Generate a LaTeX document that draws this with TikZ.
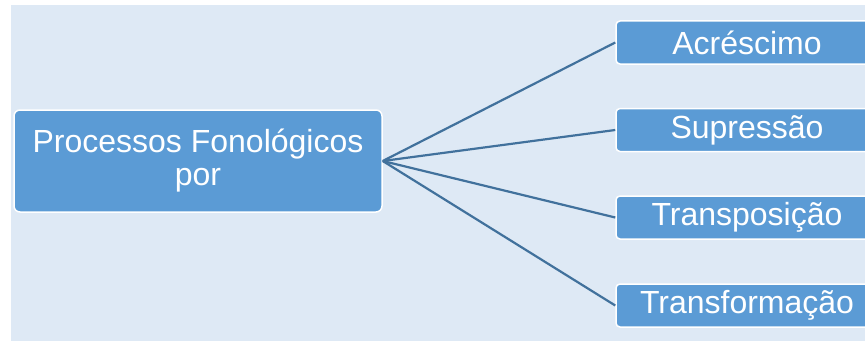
\documentclass[tikz,border=0pt]{standalone}
\usepackage{fontspec}
\setmainfont{Liberation Sans}
\definecolor{bgblue}{HTML}{DEE9F5}
\definecolor{boxblue}{HTML}{5B9BD5}
\definecolor{lineblue}{HTML}{41719C}
\begin{document}
\begin{tikzpicture}[x=1pt,y=1pt,
  mainbox/.style={draw=white, line width=1.5pt, fill=boxblue, rounded corners=6pt,
    text=white, align=center, minimum width=368pt, minimum height=102pt, inner sep=0pt,
    font=\fontsize{32}{33}\selectfont},
  leafbox/.style={draw=white, line width=1.5pt, fill=boxblue, rounded corners=4pt,
    text=white, minimum width=262pt, minimum height=43pt, inner sep=0pt,
    font=\fontsize{32}{33}\selectfont},
  conn/.style={draw=lineblue, line width=2.2pt}]
\useasboundingbox (0,0) rectangle (865,341);
\clip (0,0) rectangle (865,341);
\fill[bgblue] (11,0) rectangle (865,336);
\node[mainbox] (main) at (198,180) {Processos Fonológicos\\por};
\node[leafbox] (a) at (747,298.5) {Acréscimo};
\node[leafbox] (b) at (747,211) {Supressão};
\node[leafbox] (c) at (747,123.5) {Transposição};
\node[leafbox] (d) at (747,35.5) {Transformação};
\foreach \t in {a,b,c,d} {\draw[conn] (main.east) -- (\t.west);}
\end{tikzpicture}
\end{document}
